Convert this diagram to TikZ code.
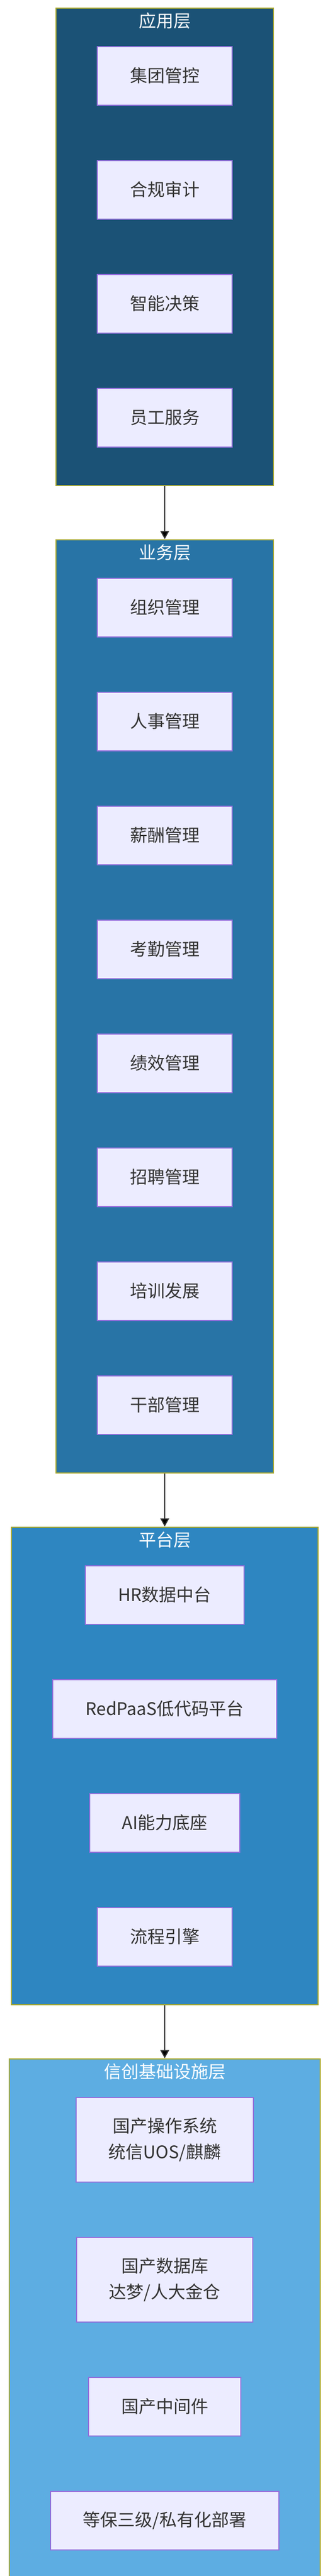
\documentclass[tikz,border=0pt]{standalone}
\usepackage{fontspec}
\setmainfont{Noto Sans CJK SC}
\usepackage{tikz}
\usetikzlibrary{positioning,fit,backgrounds,arrows.meta}

\definecolor{appblue}{HTML}{1B5276}
\definecolor{bizblue}{HTML}{2874A6}
\definecolor{platblue}{HTML}{2E86C1}
\definecolor{infrablue}{HTML}{5DADE2}
\definecolor{frameline}{HTML}{AAAA33}
\definecolor{boxfill}{HTML}{ECECFF}
\definecolor{boxline}{HTML}{9370DB}
\definecolor{textgray}{HTML}{333333}

\begin{document}
\begin{tikzpicture}[node distance=50pt,auto,>={Triangle[length=7.5pt,width=8pt]}]
    \tikzset{box/.style={draw=boxline,fill=boxfill,line width=1pt,text=textgray,minimum height=54pt,inner xsep=30pt,font=\fontsize{16pt}{24pt}\selectfont}}
    \tikzset{twoline/.style={box,align=center,minimum height=78pt}}
    \tikzset{layer/.style={draw=frameline,line width=1pt,inner xsep=37.5pt,inner ysep=35pt}}
    \tikzset{ltitle/.style={text=white,font=\fontsize{16pt}{24pt}\selectfont}}
    \useasboundingbox (0,0) rectangle (303pt,-2374pt);
    % 应用层
    \node[box] (jtgk) at (151.5pt,-69.85pt) {集团管控};
    \node[box,below=of jtgk] (hgsj) {合规审计};
    \node[box,below=of hgsj] (znjc) {智能决策};
    \node[box,below=of znjc] (ygfw) {员工服务};
    % 业务层
    \node[box,below=120pt of ygfw] (zzgl) {组织管理};
    \node[box,below=of zzgl] (rsgl) {人事管理};
    \node[box,below=of rsgl] (xcgl) {薪酬管理};
    \node[box,below=of xcgl] (kqgl) {考勤管理};
    \node[box,below=of kqgl] (jxgl) {绩效管理};
    \node[box,below=of jxgl] (zpgl) {招聘管理};
    \node[box,below=of zpgl] (pxfz) {培训发展};
    \node[box,below=of pxfz] (gbgl) {干部管理};
    % 平台层
    \node[box,below=120pt of gbgl] (hrdata) {HR数据中台};
    \node[box,below=of hrdata] (redpaas) {RedPaaS低代码平台};
    \node[box,below=of redpaas] (aidz) {AI能力底座};
    \node[box,below=of aidz] (lcyq) {流程引擎};
    % 信创基础设施层
    \node[twoline,below=120pt of lcyq] (czxt) {国产操作系统\\统信UOS/麒麟};
    \node[twoline,below=of czxt] (sjk) {国产数据库\\达梦/人大金仓};
    \node[box,below=of sjk] (zjj) {国产中间件};
    \node[box,below=of zjj] (dbsj) {等保三级/私有化部署};
    \begin{scope}[on background layer]
      \node[layer,fill=appblue,fit=(jtgk)(ygfw)] (app) {};
      \node[layer,fill=bizblue,fit=(zzgl)(gbgl)] (biz) {};
      \node[layer,fill=platblue,fit=(hrdata)(redpaas)(lcyq)] (plat) {};
      \node[layer,fill=infrablue,fit=(czxt)(dbsj)] (infra) {};
    \end{scope}
    \node[ltitle] (appt) at ([yshift=-12.25pt]app.north) {应用层};
    \node[ltitle] (bizt) at ([yshift=-12.25pt]biz.north) {业务层};
    \node[ltitle] (platt) at ([yshift=-12.25pt]plat.north) {平台层};
    \node[ltitle] (infrat) at ([yshift=-12.25pt]infra.north) {信创基础设施层};
    \path[->,draw=textgray,line width=1pt]
    (app) edge (biz)
    (biz) edge (plat)
    (plat) edge (infra)
    ;
\end{tikzpicture}
\end{document}
